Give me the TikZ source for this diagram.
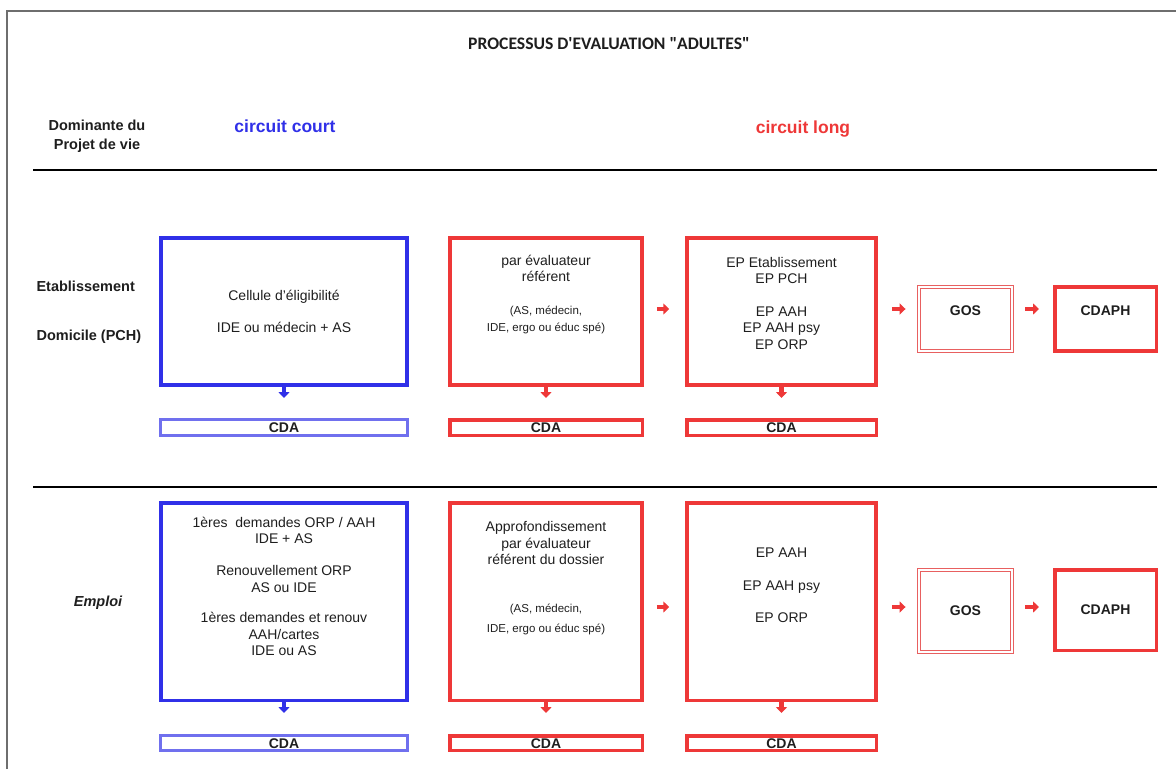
\documentclass[tikz,border=0pt]{standalone}
\usepackage{fontspec}
\setmainfont{Liberation Sans}
\newfontfamily\titlefont{Carlito}
\usetikzlibrary{arrows.meta}

\definecolor{courtblue}{RGB}{48,48,232}
\definecolor{cdablue}{RGB}{112,112,238}
\definecolor{longred}{RGB}{238,56,56}
\definecolor{gosred}{RGB}{232,96,96}
\definecolor{inkgray}{RGB}{30,30,30}
\definecolor{framegray}{RGB}{110,110,110}

\tikzset{
  courtbox/.style={draw=courtblue, line width=3.5pt, minimum width=246pt, inner sep=0pt},
  longbox/.style={draw=longred, line width=3.5pt, inner sep=0pt},
  cdabar/.style={line width=3.5pt, inner sep=0pt, text height=10pt, text depth=0pt,
    font=\fontsize{14}{16}\selectfont\bfseries, text=inkgray},
  gosbox/.style={draw=gosred, double, double distance=2.2pt, line width=0.9pt,
    minimum width=93pt, inner sep=0pt},
  boxtxt/.style={align=center, text=inkgray, font=\fontsize{14}{16.5}\selectfont},
  smalltxt/.style={align=center, text=inkgray, font=\fontsize{11.5}{17}\selectfont},
  boldtxt/.style={text=inkgray, font=\fontsize{14}{16}\selectfont\bfseries},
  rowlabel/.style={text=inkgray, font=\fontsize{14.5}{19}\selectfont\bfseries},
  flow/.style={line width=4.5pt, -{Triangle[length=6pt,width=11pt]}},
}

\begin{document}
\begin{tikzpicture}[x=1pt,y=-1pt]
\useasboundingbox (0,0) rectangle (1176,769);

% cadre et titres
\draw[framegray, line width=1.2pt] (7,769) -- (7,11) -- (1176,11);
\node[text=inkgray, font=\titlefont\fontsize{17.6}{20}\selectfont\bfseries] (titre) at (609,44)
  {PROCESSUS D'EVALUATION \textquotedbl ADULTES\textquotedbl};
\node[rowlabel, align=center] (dominante) at (97,136.5) {Dominante du\\Projet de vie};
\node[text=courtblue, font=\fontsize{17.5}{20}\selectfont\bfseries] (court) at (285,126) {circuit court};
\node[text=longred, font=\fontsize{17.5}{20}\selectfont\bfseries] (long) at (803,129) {circuit long};
\draw[line width=2.5pt] (33,170) -- (1157,170);
\draw[line width=2.5pt] (33,487) -- (1157,487);

% ligne 1 : etablissement / domicile
\coordinate (r1) at (0,309);
\node[rowlabel, anchor=west] (etab) at (33,286) {Etablissement};
\node[rowlabel, anchor=west] (domicile) at (33,337) {Domicile (PCH)};

\node[courtbox, minimum height=147pt] (cc1) at (284,311.5) {};
\node[longbox, minimum width=192pt, minimum height=147pt] (ev1) at (546,311.5) {};
\node[longbox, minimum width=189pt, minimum height=147pt] (ep1) at (781.5,311.5) {};
\node[gosbox, minimum height=64pt] (gos1) at (965.5,319) {};
\node[longbox, minimum width=101.5pt, minimum height=64pt] (cdaph1) at (1105.5,319) {};

\node[boxtxt] at (cc1) {Cellule d'éligibilité\\[15pt]IDE ou médecin + AS};
\node[boxtxt] at (546,268.5) {par évaluateur\\référent};
\node[smalltxt] at (546,319.5) {(AS, médecin,\\IDE, ergo ou éduc spé)};
\node[boxtxt] at (781.5,303) {EP Etablissement\\EP PCH\\[16pt]EP AAH\\EP AAH psy\\EP ORP};
\node[boldtxt] at (965.5,311) {GOS};
\node[boldtxt] at (1105.5,311) {CDAPH};

\node[cdabar, draw=cdablue, line width=3pt, minimum width=247pt, minimum height=16pt] (cda1a) at (284,427.5) {CDA};
\node[cdabar, draw=longred, minimum width=192.5pt, minimum height=15.5pt] (cda1b) at (546,427.5) {CDA};
\node[cdabar, draw=longred, minimum width=189.5pt, minimum height=15.5pt] (cda1c) at (781.5,427.5) {CDA};

\draw[flow, longred, shorten <=13pt, shorten >=16pt] (ev1.east |- r1) -- (ep1.west |- r1);
\draw[flow, longred, shorten <=14pt, shorten >=13pt] (ep1.east |- r1) -- (gos1.west |- r1);
\draw[flow, longred, shorten <=13pt, shorten >=14pt] (gos1.east |- r1) -- (cdaph1.west |- r1);
\draw[flow, courtblue, shorten >=20pt] (cc1.south) -- (cda1a.north);
\draw[flow, longred, shorten >=20pt] (ev1.south) -- (cda1b.north);
\draw[flow, longred, shorten >=20pt] (ep1.south) -- (cda1c.north);

% ligne 2 : emploi
\coordinate (r2) at (0,607);
\node[rowlabel, font=\fontsize{14.5}{19}\selectfont\bfseries\itshape] (emploi) at (98,603) {Emploi};

\node[courtbox, minimum height=197.5pt] (cc2) at (284,601.5) {};
\node[longbox, minimum width=192pt, minimum height=197.5pt] (ev2) at (546,601.5) {};
\node[longbox, minimum width=189pt, minimum height=197.5pt] (ep2) at (781.5,601.5) {};
\node[gosbox, minimum height=82pt, boldtxt] (gos2) at (965.5,611) {GOS};
\node[longbox, minimum width=101.5pt, minimum height=80.5pt, boldtxt] (cdaph2) at (1105.5,610) {CDAPH};

\node[boxtxt] at (284,586.5) {1ères\ \ demandes ORP / AAH\\IDE + AS\\[15.5pt]Renouvellement ORP\\AS ou IDE\\[14pt]1ères demandes et renouv\\AAH/cartes\\IDE ou AS};
\node[boxtxt] at (546,543) {Approfondissement\\par évaluateur\\référent du dossier};
\node[smalltxt] at (546,619) {(AS, médecin,\\[3pt]IDE, ergo ou éduc spé)};
\node[boxtxt] at (781.5,585) {EP AAH\\[17pt]EP AAH psy\\[15pt]EP ORP};

\node[cdabar, draw=cdablue, line width=3pt, minimum width=247pt, minimum height=15pt] (cda2a) at (284,743) {CDA};
\node[cdabar, draw=longred, minimum width=192.5pt, minimum height=14.5pt] (cda2b) at (546,743) {CDA};
\node[cdabar, draw=longred, minimum width=189.5pt, minimum height=14.5pt] (cda2c) at (781.5,743) {CDA};

\draw[flow, longred, shorten <=13pt, shorten >=16pt] (ev2.east |- r2) -- (ep2.west |- r2);
\draw[flow, longred, shorten <=14pt, shorten >=13pt] (ep2.east |- r2) -- (gos2.west |- r2);
\draw[flow, longred, shorten <=13pt, shorten >=14pt] (gos2.east |- r2) -- (cdaph2.west |- r2);
\draw[flow, courtblue, shorten >=21pt] (cc2.south) -- (cda2a.north);
\draw[flow, longred, shorten >=21pt] (ev2.south) -- (cda2b.north);
\draw[flow, longred, shorten >=21pt] (ep2.south) -- (cda2c.north);
\end{tikzpicture}
\end{document}
